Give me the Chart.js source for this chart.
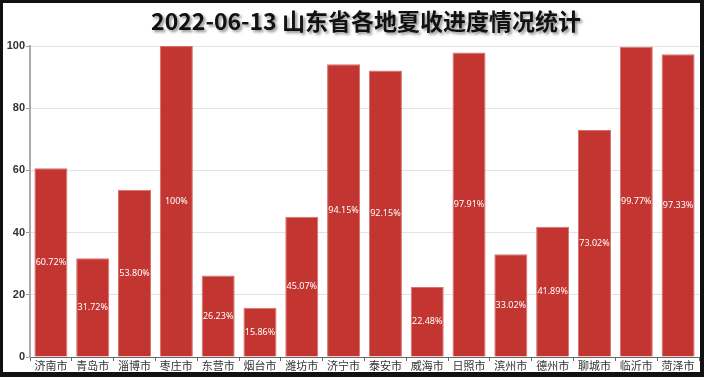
<!DOCTYPE html>
<html>
<head>
<meta charset="utf-8">
<script src="https://cdn.jsdelivr.net/npm/chart.js@4/dist/chart.umd.min.js"></script>
<style>
  html, body { margin: 0; padding: 0; background: #111; width: 704px; height: 377px; overflow: hidden; }
  #wrap { position: absolute; left: 3px; top: 3px; width: 697px; height: 369px; background: #fff; overflow: hidden; }
  #c { display: block; }
</style>
</head>
<body>
<div id="wrap"><canvas id="c" width="697" height="369"></canvas></div>
<script>
const titleText = '2022-06-13 山东省各地夏收进度情况统计';
const cities = ['济南市','青岛市','淄博市','枣庄市','东营市','烟台市','潍坊市','济宁市','泰安市','威海市','日照市','滨州市','德州市','聊城市','临沂市','菏泽市'];
const progress = [60.72, 31.72, 53.80, 100, 26.23, 15.86, 45.07, 94.15, 92.15, 22.48, 97.91, 33.02, 41.89, 73.02, 99.77, 97.33];
const yTicks = [0, 20, 40, 60, 80, 100];

const fmt = v => (v === 100 ? '100' : v.toFixed(2)) + '%';

const titlePlugin = {
  id: 'shadowTitle',
  afterDraw(chart) {
    const ctx = chart.ctx;
    ctx.save();
    ctx.font = 'bold 23px "Noto Sans CJK SC", "Noto Sans", sans-serif';
    ctx.textAlign = 'center';
    ctx.textBaseline = 'middle';
    ctx.shadowColor = 'rgba(0,0,0,0.45)';
    ctx.shadowOffsetX = 2;
    ctx.shadowOffsetY = 2;
    ctx.shadowBlur = 3;
    ctx.fillStyle = '#111';
    ctx.fillText(titleText, 363, 18);
    ctx.restore();
  }
};

const labelPlugin = {
  id: 'barLabels',
  afterDatasetsDraw(chart) {
    const ctx = chart.ctx;
    const meta = chart.getDatasetMeta(0);
    ctx.save();
    ctx.font = '9px "Noto Sans", sans-serif';
    ctx.fillStyle = '#fff';
    ctx.textAlign = 'center';
    ctx.textBaseline = 'middle';
    meta.data.forEach((bar, i) => {
      const y = (bar.y + bar.base) / 2;
      ctx.fillText(fmt(progress[i]), bar.x, y);
    });
    ctx.restore();
  }
};

new Chart(document.getElementById('c'), {
  type: 'bar',
  data: {
    labels: cities,
    datasets: [{
      data: progress,
      backgroundColor: '#c23531',
      borderColor: '#d8706c',
      borderWidth: 1,
      barPercentage: 0.79,
      categoryPercentage: 1
    }]
  },
  options: {
    responsive: false,
    animation: false,
    layout: { padding: { top: 43, left: 0, right: 1, bottom: 0 } },
    plugins: { legend: { display: false }, title: { display: false }, tooltip: { enabled: false } },
    scales: {
      x: {
        offset: true,
        afterFit: s => { s.height = 15; },
        grid: { display: true, drawOnChartArea: false, offset: true, tickLength: 4, tickColor: '#666' },
        border: { color: '#666', width: 1 },
        ticks: { font: { size: 11, family: '"Noto Sans CJK SC", sans-serif' }, color: '#333', padding: -2, maxRotation: 0, autoSkip: false }
      },
      y: {
        min: 0, max: 100,
        afterFit: s => { s.width = 27; },
        afterBuildTicks: s => { s.ticks = yTicks.map(v => ({ value: v })); },
        grid: { color: '#e3e3e3', tickLength: 4, tickColor: '#999' },
        border: { color: '#aaa', width: 2 },
        ticks: { font: { size: 11, weight: 'bold', family: '"Liberation Sans", Arial, sans-serif' }, color: '#333', padding: 1 }
      }
    }
  },
  plugins: [titlePlugin, labelPlugin]
});
</script>
</body>
</html>
